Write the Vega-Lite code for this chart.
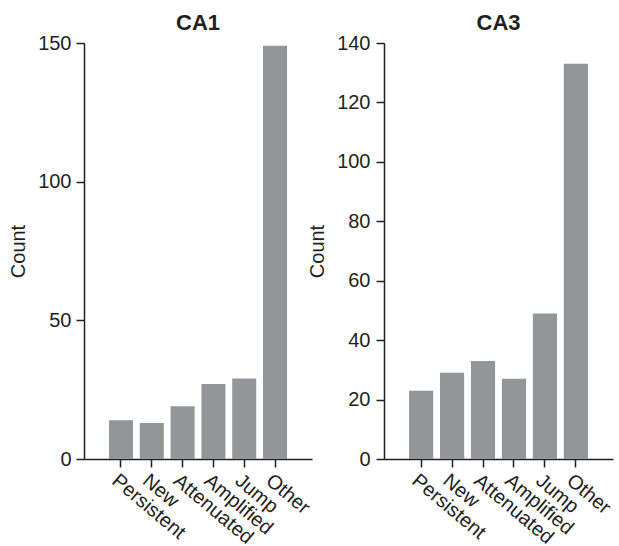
{
  "$schema": "https://vega.github.io/schema/vega-lite/v6.json",
  "background": "white",
  "padding": {"left": 8, "top": 12, "right": 5, "bottom": 0},
  "bounds": "flush",
  "spacing": 72,
  "config": {
    "font": "Liberation Sans",
    "view": {"stroke": null},
    "axis": {
      "grid": false,
      "domainColor": "#231f20",
      "domainWidth": 1.5,
      "tickColor": "#231f20",
      "tickWidth": 1.5,
      "tickSize": 8,
      "labelFont": "Liberation Sans",
      "labelFontSize": 20,
      "labelColor": "#231f20",
      "titleFont": "Liberation Sans",
      "titleFontSize": 20,
      "titleFontWeight": "normal",
      "titleColor": "#231f20"
    },
    "title": {"font": "Liberation Sans", "fontSize": 22, "fontWeight": "bold", "color": "#231f20", "offset": -2}
  },
  "datasets": {
    "ca1": [
      {"category": "Persistent", "count": 14},
      {"category": "New", "count": 13},
      {"category": "Attenuated", "count": 19},
      {"category": "Amplified", "count": 27},
      {"category": "Jump", "count": 29},
      {"category": "Other", "count": 149}
    ],
    "ca3": [
      {"category": "Persistent", "count": 23},
      {"category": "New", "count": 29},
      {"category": "Attenuated", "count": 33},
      {"category": "Amplified", "count": 27},
      {"category": "Jump", "count": 49},
      {"category": "Other", "count": 133}
    ]
  },
  "hconcat": [
    {
      "title": "CA1",
      "data": {"name": "ca1"},
      "width": 228,
      "height": 416,
      "mark": {"type": "bar", "color": "#939598"},
      "encoding": {
        "x": {
          "field": "category", "type": "nominal", "sort": null,
          "scale": {"paddingInner": 0.22, "paddingOuter": 0.81},
          "axis": {"title": null, "labelAngle": 40, "labelAlign": "left", "labelBaseline": "top", "labelPadding": 3}
        },
        "y": {
          "field": "count", "type": "quantitative",
          "scale": {"domain": [0, 150], "nice": false},
          "axis": {"values": [0, 50, 100, 150], "title": "Count", "labelPadding": 5, "titlePadding": 9}
        }
      }
    },
    {
      "title": "CA3",
      "data": {"name": "ca3"},
      "width": 229,
      "height": 416,
      "mark": {"type": "bar", "color": "#939598"},
      "encoding": {
        "x": {
          "field": "category", "type": "nominal", "sort": null,
          "scale": {"paddingInner": 0.22, "paddingOuter": 0.81},
          "axis": {"title": null, "labelAngle": 40, "labelAlign": "left", "labelBaseline": "top", "labelPadding": 3}
        },
        "y": {
          "field": "count", "type": "quantitative",
          "scale": {"domain": [0, 140], "nice": false},
          "axis": {"values": [0, 20, 40, 60, 80, 100, 120, 140], "title": "Count", "labelPadding": 6, "titlePadding": 9}
        }
      }
    }
  ]
}
